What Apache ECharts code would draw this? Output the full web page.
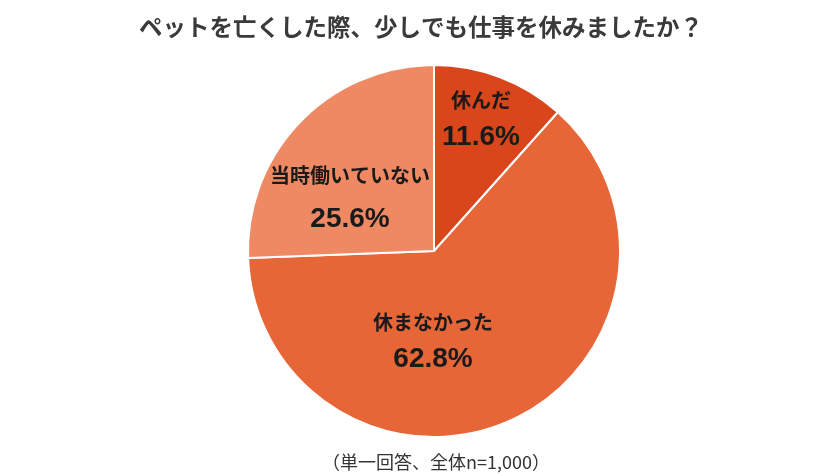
<!DOCTYPE html>
<html><head><meta charset="utf-8">
<script src="https://cdn.jsdelivr.net/npm/echarts@6/dist/echarts.min.js"></script>
<style>html,body{margin:0;padding:0;background:#fff}#c{width:837px;height:476px}</style>
</head><body><div id="c"></div>
<script>
const categories = ['休んだ', '休まなかった', '当時働いていない'];
const values = [11.6, 62.8, 25.6];
const colors = ['#D9461B', '#E76638', '#EE8963'];
const titleText = 'ペットを亡くした際、少しでも仕事を休みましたか？';
const noteText = '（単一回答、全体n=1,000）';
const labelCenters = [[481, 119], [433, 341], [350, 197]];
const labelGaps = [37, 37, 44];

const chart = echarts.init(document.getElementById('c'));
chart.setOption({
  backgroundColor: '#fff',
  animation: false,
  title: [{
    text: titleText, left: 416, top: 10, textAlign: 'center',
    textStyle: { fontFamily: 'Noto Sans CJK JP', fontWeight: 'bold', fontSize: 23.5, color: '#3a3a3a' }
  }, {
    text: noteText, left: 431, top: 448, textAlign: 'center',
    textStyle: { fontFamily: 'Noto Sans CJK JP', fontWeight: 'normal', fontSize: 18, color: '#333' }
  }],
  series: [{
    type: 'pie',
    center: [434, 251],
    radius: 186,
    startAngle: 90,
    clockwise: true,
    itemStyle: { borderColor: '#fff', borderWidth: 2 },
    label: {
      show: true, position: 'inside',
      formatter: p => '{n|' + p.name + '}\n{v|' + p.value.toFixed(1) + '%}'
    },
    labelLayout: p => ({ x: labelCenters[p.dataIndex][0], y: labelCenters[p.dataIndex][1], align: 'center', verticalAlign: 'middle' }),
    labelLine: { show: false },
    data: categories.map((c, i) => ({
      name: c, value: values[i], itemStyle: { color: colors[i] },
      label: {
        rich: {
          n: { fontFamily: 'Noto Sans CJK JP', fontWeight: 'bold', fontSize: 20, color: '#1a1a1a', lineHeight: labelGaps[i], align: 'center' },
          v: { fontFamily: 'Liberation Sans', fontWeight: 'bold', fontSize: 28, color: '#1a1a1a', lineHeight: labelGaps[i], align: 'center' }
        }
      }
    }))
  }]
});
</script></body></html>
